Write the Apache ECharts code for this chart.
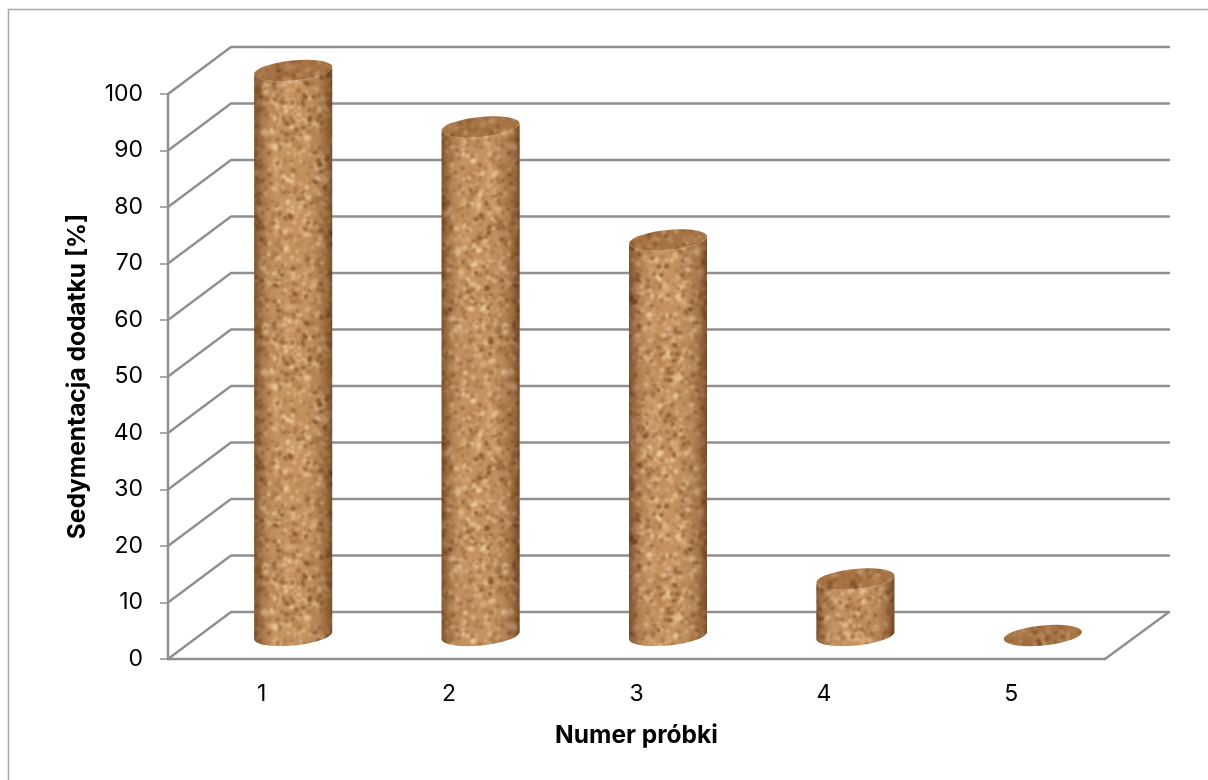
<!DOCTYPE html>
<html>
<head>
<meta charset="utf-8">
<style>
  html, body { margin: 0; padding: 0; background: #fff; }
  #chart { width: 1208px; height: 780px; }
</style>
<script src="https://cdn.jsdelivr.net/npm/echarts@6/dist/echarts.min.js"></script>
</head>
<body>
<div id="chart"></div>
<script>
// Sedimentation of the additive per sample
const categories = ['1', '2', '3', '4', '5'];
const sedimentation = [100, 90, 70, 10, 0];
const yTicks = [0, 10, 20, 30, 40, 50, 60, 70, 80, 90, 100];
const xTitle = 'Numer próbki';
const yTitle = 'Sedymentacja dodatku [%]';

// Oblique projection of the chart box depth
const DEPTH_X = 63;
const DEPTH_Y = -47;
const LINE = '#8f8f8f';
const FONT = 'Inter, "Noto Sans", sans-serif';

// Tileable cork grain, built with a small deterministic generator
function corkTexture() {
  const size = 240;
  const c = document.createElement('canvas');
  c.width = c.height = size;
  const ctx = c.getContext('2d');
  ctx.fillStyle = '#c08d5b';
  ctx.fillRect(0, 0, size, size);
  let seed = 20231;
  const next = () => (seed = (seed * 16807) % 2147483647) / 2147483647;
  const stamp = (count, colors, rMin, rMax, alpha) => {
    ctx.globalAlpha = alpha;
    for (let i = 0; i < count; i++) {
      const x = next() * size, y = next() * size;
      const r = rMin + next() * (rMax - rMin);
      const sx = 0.7 + next() * 0.9;
      const rot = next() * Math.PI;
      ctx.fillStyle = colors[Math.floor(next() * colors.length)];
      for (const dx of [-size, 0, size]) {
        for (const dy of [-size, 0, size]) {
          if (x + dx < -9 || x + dx > size + 9 || y + dy < -9 || y + dy > size + 9) continue;
          ctx.beginPath();
          ctx.ellipse(x + dx, y + dy, r * sx, r, rot, 0, Math.PI * 2);
          ctx.fill();
        }
      }
    }
  };
  ctx.filter = 'blur(0.9px)';
  stamp(1300, ['#e3b98a', '#d8a877', '#edcb9f', '#b98653'], 1.2, 3.0, 0.85);
  stamp(1500, ['#85512a', '#9a6636', '#6f4019', '#a3703f'], 0.7, 2.2, 0.8);
  stamp(420, ['#e9c294', '#dcae7d'], 0.8, 1.9, 0.8);
  ctx.globalAlpha = 1;
  return c;
}
const cork = { image: corkTexture(), repeat: 'repeat' };

// Half of a slightly sheared ellipse, sampled from angle a0 to a1
function ellipseArc(cx, cy, rx, ry, a0, a1) {
  const pts = [];
  const tilt = ry * 0.36;
  for (let i = 0; i <= 36; i++) {
    const t = a0 + (a1 - a0) * i / 36;
    pts.push([cx + rx * Math.cos(t), cy + ry * Math.sin(t) - tilt * Math.cos(t)]);
  }
  return pts;
}

function renderCylinder(params, api) {
  const band = api.size([1, 0])[0];
  const rx = band * 0.208;
  const ry = 10;
  const top = api.coord([api.value(0), api.value(1)]);
  const base = api.coord([api.value(0), 0]);
  const cx = base[0] + DEPTH_X / 2;
  const yBase = base[1] + DEPTH_Y / 2;
  const yTop = top[1] + DEPTH_Y / 2;
  const children = [];
  if (yBase - yTop > 0.5) {
    const outline = ellipseArc(cx, yBase, rx, ry, 0, Math.PI)
      .concat(ellipseArc(cx, yTop, rx, ry, Math.PI, 0));
    children.push({ type: 'polygon', shape: { points: outline }, style: { fill: cork } });
    children.push({
      type: 'polygon',
      shape: { points: outline },
      style: {
        fill: {
          type: 'linear', x: 0, y: 0, x2: 1, y2: 0,
          colorStops: [
            { offset: 0, color: 'rgba(70,35,8,0.55)' },
            { offset: 0.1, color: 'rgba(90,50,20,0.25)' },
            { offset: 0.3, color: 'rgba(255,225,180,0.08)' },
            { offset: 0.6, color: 'rgba(255,225,180,0.06)' },
            { offset: 0.88, color: 'rgba(90,50,20,0.25)' },
            { offset: 1, color: 'rgba(70,35,8,0.6)' }
          ]
        }
      }
    });
  }
  const cap = ellipseArc(cx, yTop, rx, ry, 0, Math.PI * 2);
  children.push({ type: 'polygon', shape: { points: cap }, style: { fill: cork } });
  children.push({ type: 'polygon', shape: { points: cap }, style: { fill: 'rgba(120,72,32,0.35)' } });
  return { type: 'group', children };
}

// Back wall gridlines, left wall diagonals and floor edges
function renderWalls(params, api) {
  const v = api.value(0);
  const left = api.coord([0, v]);
  const band = api.size([1, 0])[0];
  const x0 = left[0] - band / 2;
  const x1 = x0 + band * categories.length;
  const y = left[1];
  const line = (a, b, c) => ({
    type: 'polyline',
    shape: { points: c ? [a, b, c] : [a, b] },
    style: { stroke: LINE, lineWidth: 2.4, fill: null, lineJoin: 'round', lineCap: 'round' }
  });
  const children = [line([x0, y], [x0 + DEPTH_X, y + DEPTH_Y], [x1 + DEPTH_X + 1, y + DEPTH_Y])];
  if (v === 0) children.push(line([x1, y], [x1 + DEPTH_X + 1, y + DEPTH_Y]));
  return { type: 'group', children };
}

const chart = echarts.init(document.getElementById('chart'), null, { renderer: 'canvas' });
chart.setOption({
  animation: false,
  backgroundColor: '#fff',
  graphic: [{
    type: 'rect',
    silent: true,
    z: -1,
    shape: { x: 8.5, y: 9.5, width: 1300, height: 900 },
    style: { fill: 'none', stroke: '#a9a9a9', lineWidth: 1.5 }
  }],
  grid: { left: 168, right: 103, top: 94, bottom: 121 },
  xAxis: {
    type: 'category',
    data: categories,
    name: xTitle,
    nameLocation: 'middle',
    nameGap: 64,
    nameTextStyle: { fontFamily: FONT, fontSize: 24.5, fontWeight: 'bold', color: '#000' },
    axisLine: { lineStyle: { color: LINE, width: 2.4 } },
    axisTick: { length: 8, lineStyle: { color: LINE, width: 1.5 } },
    axisLabel: { margin: 24, fontFamily: FONT, fontSize: 23, color: '#000' }
  },
  yAxis: {
    type: 'value',
    min: 0,
    max: 100,
    interval: 10,
    name: yTitle,
    nameLocation: 'middle',
    nameGap: 78,
    nameTextStyle: { fontFamily: FONT, fontSize: 24.5, fontWeight: 'bold', color: '#000' },
    axisLine: { show: true, lineStyle: { color: LINE, width: 2.4 } },
    axisTick: { show: true, length: 8, lineStyle: { color: LINE, width: 1.5 } },
    axisLabel: { margin: 25, fontFamily: FONT, fontSize: 23, color: '#000' },
    splitLine: { show: false }
  },
  series: [
    {
      type: 'custom',
      renderItem: renderWalls,
      data: yTicks.map(v => [v]),
      encode: { y: 0 },
      z: 1,
      silent: true,
      clip: false
    },
    {
      type: 'custom',
      renderItem: renderCylinder,
      data: sedimentation.map((v, i) => [i, v]),
      encode: { x: 0, y: 1 },
      z: 2,
      silent: true,
      clip: false
    }
  ]
});
</script>
</body>
</html>
